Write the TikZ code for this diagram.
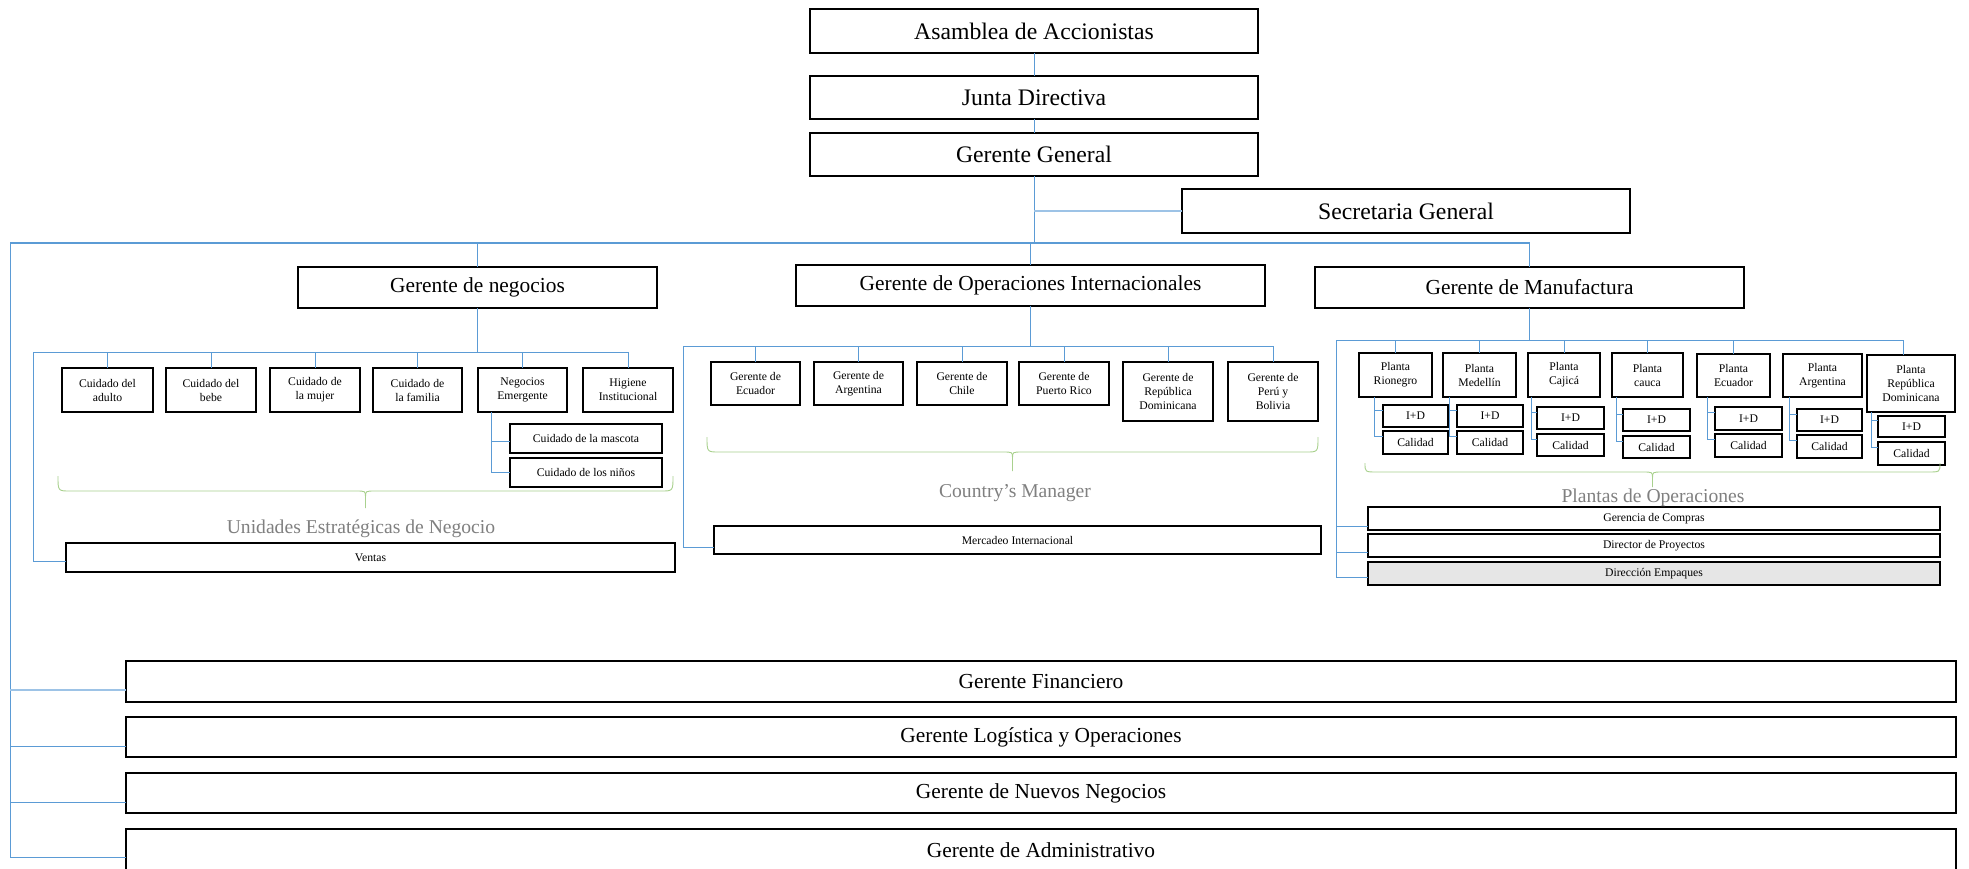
\documentclass[tikz,border=0pt]{standalone}
\usepackage{fontspec}
\setmainfont{Liberation Serif}
\definecolor{linkblue}{RGB}{91,155,213}
\definecolor{widelink}{RGB}{157,195,230}
\definecolor{bracegreen}{RGB}{169,209,142}
\definecolor{labelgray}{RGB}{128,128,128}
\definecolor{shade}{RGB}{230,230,230}
% box from corner (x1,y1) to corner (x2,y2), in pixel units
\newcommand\placebox[7]{%
  \node[#6, minimum width={#4-#2}, minimum height={#5-#3}] (#1)
    at ({(#2+#4)/2},{(#3+#5)/2}) {#7};}
% curly brace over a group: x1, x2, top of ends, line, tip
\newcommand\groupbrace[5]{%
  \pgfmathsetmacro\bm{(#1+#2)/2}%
  \draw[brace] (#1,#3) .. controls (#1,#4) .. ({#1+12},#4) -- ({\bm-10},#4)
    .. controls (\bm,#4) .. (\bm,{#4+6}) -- (\bm,#5);
  \draw[brace] (#2,#3) .. controls (#2,#4) .. ({#2-12},#4) -- ({\bm+10},#4)
    .. controls (\bm,#4) .. (\bm,{#4+6});}
\begin{document}
\begin{tikzpicture}[x=1pt,y=-1pt,
  box/.style={draw=black, line width=1.5pt, fill=white, inner sep=0pt,
    outer sep=0pt, align=center, text=black},
  big/.style={box, font=\fontsize{23.7}{28}\selectfont},
  mid/.style={box, font=\fontsize{21.4}{26}\selectfont},
  small/.style={box, line width=1.3pt, font=\fontsize{11.7}{14}\selectfont},
  conn/.style={draw=linkblue, line width=1pt},
  wide/.style={draw=widelink, line width=2.6pt},
  brace/.style={draw=bracegreen, line width=0.9pt},
  tag/.style={text=labelgray, font=\fontsize{19.6}{22}\selectfont, inner sep=0pt}]

\clip (0,0) rectangle (1969,869);
\fill[white] (0,0) rectangle (1969,869);

% ---- top of the hierarchy
\placebox{asam}{810}{9}{1258}{53}{big}{Asamblea de Accionistas}
\placebox{junta}{810}{76}{1258}{119}{big}{Junta Directiva}
\placebox{gg}{810}{133}{1258}{176}{big}{Gerente General}
\placebox{sec}{1182}{189}{1630}{233}{big}{Secretaria General}

\placebox{gneg}{298}{267}{657}{308}{mid}{Gerente de negocios}
\placebox{gint}{796}{265}{1265}{306}{mid}{Gerente de Operaciones Internacionales}
\placebox{gman}{1315}{267}{1744}{308}{mid}{Gerente de Manufactura}

% ---- business units
\placebox{adulto}{62}{368}{153}{412}{small}{Cuidado del\\adulto}
\placebox{bebe}{166}{368}{256}{412}{small}{Cuidado del\\bebe}
\placebox{mujer}{270}{368}{360}{412}{small}{Cuidado de\\la mujer}
\placebox{familia}{373}{368}{462}{412}{small}{Cuidado de\\la familia}
\placebox{emerg}{478}{368}{567}{412}{small}{Negocios\\Emergente}
\placebox{hig}{583}{368}{673}{412}{small}{Higiene\\Institucional}
\placebox{mascota}{510}{424}{662}{453}{small}{Cuidado de la mascota}
\placebox{ninos}{510}{458}{662}{487}{small}{Cuidado de los niños}
\placebox{ventas}{66}{543}{675}{572}{small}{Ventas}

% ---- country managers
\placebox{cec}{711}{362}{800}{405}{small}{Gerente de\\Ecuador}
\placebox{car}{814}{362}{903}{405}{small}{Gerente de\\Argentina}
\placebox{cch}{917}{362}{1007}{405}{small}{Gerente de\\Chile}
\placebox{cpr}{1019}{362}{1109}{405}{small}{Gerente de\\Puerto Rico}
\placebox{crd}{1123}{362}{1213}{421}{small}{Gerente de\\República\\Dominicana}
\placebox{cpb}{1228}{362}{1318}{421}{small}{Gerente de\\Perú y\\Bolivia}
\placebox{merc}{714}{526}{1321}{554}{small}{Mercadeo Internacional}

% ---- plants
\placebox{rio}{1359}{353}{1432}{397}{small}{Planta\\Rionegro}
\placebox{med}{1443}{353}{1516}{397}{small}{Planta\\Medellín}
\placebox{caj}{1528}{353}{1600}{397}{small}{Planta\\Cajicá}
\placebox{cau}{1612}{353}{1683}{397}{small}{Planta\\cauca}
\placebox{pec}{1697}{354}{1770}{397}{small}{Planta\\Ecuador}
\placebox{parg}{1783}{354}{1862}{397}{small}{Planta\\Argentina}
\placebox{prd}{1867}{355}{1955}{412}{small}{Planta\\República\\Dominicana}

\placebox{rio-id}{1383}{405}{1448}{427}{small}{I+D}
\placebox{rio-cal}{1383}{431}{1448}{454}{small}{Calidad}
\placebox{med-id}{1457}{405}{1523}{427}{small}{I+D}
\placebox{med-cal}{1457}{431}{1523}{454}{small}{Calidad}
\placebox{caj-id}{1537}{407}{1604}{429}{small}{I+D}
\placebox{caj-cal}{1537}{434}{1604}{456}{small}{Calidad}
\placebox{cau-id}{1623}{409}{1690}{431}{small}{I+D}
\placebox{cau-cal}{1623}{436}{1690}{458}{small}{Calidad}
\placebox{pec-id}{1715}{407}{1782}{430}{small}{I+D}
\placebox{pec-cal}{1715}{434}{1782}{457}{small}{Calidad}
\placebox{parg-id}{1797}{409}{1862}{431}{small}{I+D}
\placebox{parg-cal}{1797}{435}{1862}{458}{small}{Calidad}
\placebox{prd-id}{1878}{416}{1945}{437}{small}{I+D}
\placebox{prd-cal}{1878}{442}{1945}{465}{small}{Calidad}

\placebox{compras}{1368}{507}{1940}{530}{small}{Gerencia de Compras}
\placebox{proy}{1368}{534}{1940}{557}{small}{Director de Proyectos}
\placebox{empq}{1368}{562}{1940}{585}{small, fill=shade}{Dirección Empaques}

% ---- staff managers
\placebox{fin}{126}{661}{1956}{702}{mid}{Gerente Financiero}
\placebox{logi}{126}{717}{1956}{757}{mid}{Gerente Logística y Operaciones}
\placebox{nue}{126}{773}{1956}{813}{mid}{Gerente de Nuevos Negocios}
\placebox{adm}{126}{829}{1956}{871}{mid}{Gerente de Administrativo}

% ---- group braces and their captions
\groupbrace{58}{673}{476}{491}{508}
\groupbrace{707}{1318}{437}{452}{471}
\groupbrace{1365}{1940}{463}{472}{487}
\node[tag] (uen) at (361,529) {Unidades Estratégicas de Negocio};
\node[tag] (cman) at (1015,493) {Country’s Manager};
\node[tag] (plops) at (1653,498) {Plantas de Operaciones};

% ---- connectors: main line
\coordinate (mL) at (10,243);
\draw[conn] (asam) -- (junta);
\draw[conn] (junta) -- (gg);
\draw[conn] (gg.south) -- (gg.south |- mL);
\draw[wide] (sec.west) -- (sec.west -| gg.south);
\draw[conn, line width=1.4pt] (mL) -- (gman.north |- mL);
\draw[conn] (gneg.north) -- (gneg.north |- mL);
\draw[conn] (gint.north) -- (gint.north |- mL);
\draw[conn] (gman.north) -- (gman.north |- mL);
\draw[conn] (mL) |- ([yshift=-7pt]adm.west);
\draw[wide] ([yshift=-8.5pt]fin.west) -- ([yshift=-8.5pt]fin.west -| mL);
\draw[conn] ([yshift=-9pt]logi.west) -- ([yshift=-9pt]logi.west -| mL);
\draw[conn] ([yshift=-9pt]nue.west) -- ([yshift=-9pt]nue.west -| mL);

% ---- connectors: business units
\coordinate (nL) at (33,352);
\draw[conn] (gneg.south) -- (gneg.south |- nL);
\draw[conn] (nL) -- (hig.north |- nL);
\foreach \n in {adulto,bebe,mujer,familia,emerg,hig}
  \draw[conn] (\n.north) -- (\n.north |- nL);
\draw[conn] (nL) |- ([yshift=-4pt]ventas.west);
\draw[conn] ([xshift=13pt]emerg.south west) |- (ninos.west);
\draw[conn] ([xshift=13pt]emerg.south west) |- ([yshift=-2.5pt]mascota.west);

% ---- connectors: country managers
\coordinate (iL) at (683,346);
\draw[conn] (gint.south) -- (gint.south |- iL);
\draw[conn] (iL) -- (cpb.north |- iL);
\foreach \n in {cec,car,cch,cpr,crd,cpb}
  \draw[conn] (\n.north) -- (\n.north |- iL);
\draw[conn] (iL) |- ([yshift=-7pt]merc.west);

% ---- connectors: plants
\coordinate (pL) at (1336,340);
\draw[conn] (gman.south) -- (gman.south |- pL);
\draw[conn] (pL) -- ([xshift=-8pt]prd.north |- pL);
\foreach \n in {rio,med,caj,cau,pec}
  \draw[conn] (\n.north) -- (\n.north |- pL);
\draw[conn] ([xshift=-8pt]prd.north) -- ([xshift=-8pt]prd.north |- pL);
\foreach \n/\d in {rio/15,med/6,caj/3,cau/4,pec/10,parg/6,prd/4}{
  \draw[conn] ([xshift=\d pt]\n.south west) |- ([yshift=6pt]\n-id.west);
  \draw[conn] ([xshift=\d pt]\n.south west) |- ([yshift=6pt]\n-cal.west);
}
\draw[conn] (pL) |- ([yshift=-3.5pt]empq.west);
\draw[conn] ([yshift=-8pt]compras.west) -- ([yshift=-8pt]compras.west -| pL);
\draw[conn] ([yshift=-6.5pt]proy.west) -- ([yshift=-6.5pt]proy.west -| pL);
\end{tikzpicture}
\end{document}
